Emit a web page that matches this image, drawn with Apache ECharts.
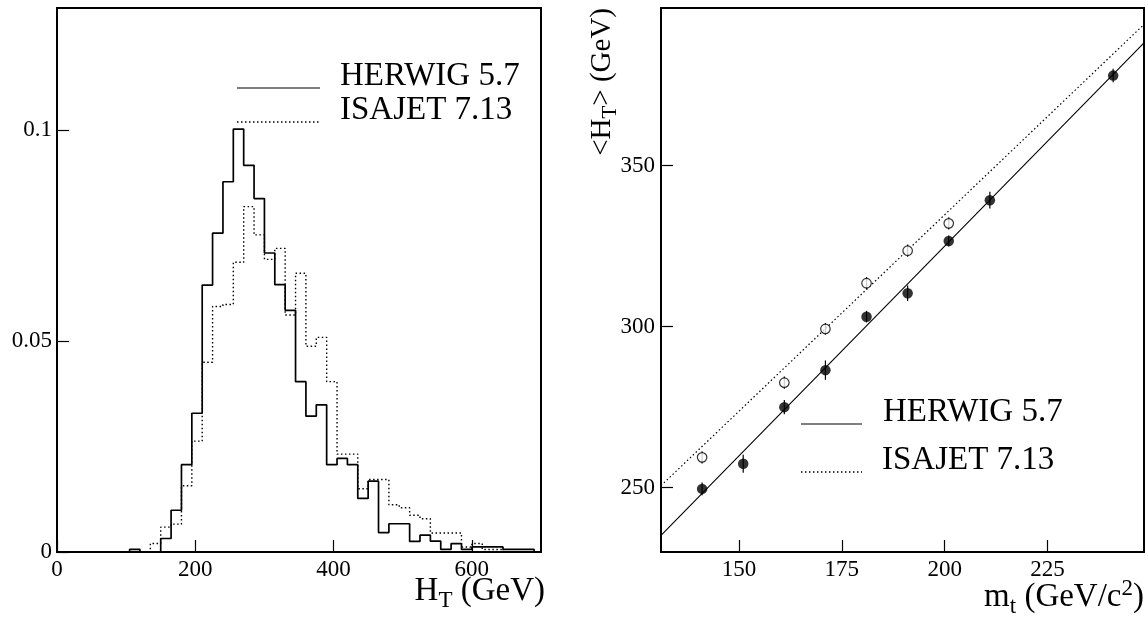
<!DOCTYPE html>
<html>
<head>
<meta charset="utf-8">
<script src="https://cdn.jsdelivr.net/npm/echarts@6/dist/echarts.min.js"></script>
<style>
  html, body { margin: 0; padding: 0; background: #fff; }
  #chart { width: 1148px; height: 618px; }
</style>
</head>
<body>
<div id="chart"></div>
<script>
// H_T distributions, normalised, in 15 GeV bins starting at 0 GeV
const binWidth = 15;
const herwigHT = [
  0, 0, 0, 0, 0, 0, 0, 0.0006, 0, 0,
  0.0032, 0.0099, 0.0207, 0.0329, 0.0633, 0.0756, 0.0878, 0.1003, 0.0917, 0.0838,
  0.0709, 0.0634, 0.0573, 0.0404, 0.0322, 0.0349, 0.0207, 0.0222, 0.0207, 0.0127,
  0.0168, 0.0046, 0.0067, 0.0067, 0.0025, 0.0040, 0.0026, 0.0006, 0.0020, 0.0006,
  0.0012, 0.0012, 0.0012, 0.0006, 0.0006, 0.0006
];
const isajetHT = [
  0, 0, 0, 0, 0, 0, 0, 0, 0, 0.0020,
  0.0059, 0.0066, 0.0157, 0.0263, 0.0450, 0.0582, 0.0587, 0.0687, 0.0819, 0.0752,
  0.0694, 0.0720, 0.0562, 0.0661, 0.0488, 0.0509, 0.0404, 0.0232, 0.0232, 0.0150,
  0.0172, 0.0172, 0.0112, 0.0105, 0.0087, 0.0079, 0.0045, 0.0045, 0.0045, 0.0012,
  0.0020, 0.0006, 0.0006, 0, 0, 0
];

// mean H_T versus top mass
const herwigMass = [141, 151, 161, 171, 181, 191, 201, 211, 241];
const herwigMean = [249.6, 257.4, 275.0, 286.5, 303.1, 310.4, 326.6, 339.3, 378.0];
const herwigErr  = [2.0, 2.8, 2.2, 3.0, 1.8, 2.4, 1.7, 2.6, 2.1];
const isajetMass = [141, 161, 171, 181, 191, 201];
const isajetMean = [259.4, 282.6, 299.3, 313.5, 323.6, 332.1];
const isajetErr  = [1.9, 1.9, 1.8, 1.9, 1.9, 1.9];

// straight-line fits, given by their end points
const herwigFit = [[131, 235.2], [248.5, 388.2]];
const isajetFit = [[131, 250.6], [248.5, 393.9]];

// tick values
const htTicks = [0, 200, 400, 600];
const fracTicks = [0, 0.05, 0.1];
const mtTicks = [150, 175, 200, 225];
const meanTicks = [250, 300, 350];

const legendNames = ['HERWIG 5.7', 'ISAJET 7.13'];

const FAMILY = '"Liberation Serif", "Times New Roman", serif';
const DOTS = [1.5, 2.5];

// outline points for a step histogram
function stepPoints(vals) {
  const pts = vals.map((v, i) => [i * binWidth, v]);
  pts.push([vals.length * binWidth, 0]);
  return pts;
}

// text pieces with sub/superscripts, laid out on a common baseline
const measureCtx = document.createElement('canvas').getContext('2d');
const MID = 0.34; // distance from the 'middle' baseline to the alphabetic one, in em
function runOfText(parts, endX) {
  const widths = parts.map(p => {
    measureCtx.font = p.size + 'px ' + FAMILY;
    return measureCtx.measureText(p.text).width;
  });
  const total = widths.reduce((a, b) => a + b, 0);
  let cur = endX - total;
  return parts.map((p, i) => {
    const el = {
      type: 'text',
      x: cur,
      y: (p.dy || 0) - MID * p.size,
      style: {
        text: p.text,
        font: p.size + 'px ' + FAMILY,
        fill: '#000',
        align: 'left',
        verticalAlign: 'middle'
      }
    };
    cur += widths[i];
    return el;
  });
}
function label(parts, x, baseline, rotation) {
  return {
    type: 'group',
    x: x,
    y: baseline,
    rotation: rotation || 0,
    children: runOfText(parts, 0)
  };
}
function legendEntry(x1, x2, y, textX, text, dashed) {
  return [
    {
      type: 'line',
      shape: { x1: x1, y1: y, x2: x2, y2: y },
      style: { stroke: '#000', lineWidth: dashed ? 1.3 : 1.2, lineDash: dashed ? DOTS : null }
    },
    {
      type: 'text',
      x: textX,
      y: y - MID * 33,
      style: { text: text, font: '33px ' + FAMILY, fill: '#000', align: 'left', verticalAlign: 'middle' }
    }
  ];
}

const axisText = { color: '#000', fontFamily: FAMILY, fontSize: 23 };
const frameLine = { show: true, onZero: false, lineStyle: { color: '#000', width: 2 } };
const tickStyle = { inside: true, length: 12, lineStyle: { color: '#000', width: 1.2 } };

const chart = echarts.init(document.getElementById('chart'), null, { renderer: 'canvas' });

chart.setOption({
  animation: false,
  backgroundColor: '#fff',
  grid: [
    { left: 57, right: 607, top: 8, bottom: 66, show: true, borderColor: '#000', borderWidth: 2, backgroundColor: 'transparent' },
    { left: 661, right: 4, top: 8, bottom: 66, show: true, borderColor: '#000', borderWidth: 2, backgroundColor: 'transparent' }
  ],
  xAxis: [
    {
      gridIndex: 0, type: 'value', min: 0, max: 700,
      axisLine: frameLine,
      axisTick: Object.assign({ customValues: htTicks }, tickStyle),
      axisLabel: Object.assign({ customValues: htTicks, margin: 6 }, axisText),
      splitLine: { show: false }
    },
    {
      gridIndex: 1, type: 'value', min: 131, max: 248.5,
      axisLine: frameLine,
      axisTick: Object.assign({ customValues: mtTicks }, tickStyle),
      axisLabel: Object.assign({ customValues: mtTicks, margin: 6 }, axisText),
      splitLine: { show: false }
    }
  ],
  yAxis: [
    {
      gridIndex: 0, type: 'value', min: 0, max: 0.129,
      axisLine: frameLine,
      axisTick: Object.assign({ customValues: fracTicks }, tickStyle),
      axisLabel: Object.assign({ customValues: fracTicks, margin: 5 }, axisText),
      splitLine: { show: false }
    },
    {
      gridIndex: 1, type: 'value', min: 230, max: 399,
      axisLine: frameLine,
      axisTick: Object.assign({ customValues: meanTicks }, tickStyle),
      axisLabel: Object.assign({ customValues: meanTicks, margin: 6 }, axisText),
      splitLine: { show: false }
    }
  ],
  series: [
    {
      name: legendNames[1], type: 'line', xAxisIndex: 0, yAxisIndex: 0,
      data: stepPoints(isajetHT), step: 'end', symbol: 'none', silent: true,
      lineStyle: { color: '#000', width: 1.4, type: DOTS }, z: 3
    },
    {
      name: legendNames[0], type: 'line', xAxisIndex: 0, yAxisIndex: 0,
      data: stepPoints(herwigHT), step: 'end', symbol: 'none', silent: true,
      lineStyle: { color: '#000', width: 1.7 }, z: 4
    },
    {
      name: legendNames[0] + ' fit', type: 'line', xAxisIndex: 1, yAxisIndex: 1,
      data: herwigFit, symbol: 'none', silent: true, clip: true,
      lineStyle: { color: '#000', width: 1.1 }, z: 2
    },
    {
      name: legendNames[1] + ' fit', type: 'line', xAxisIndex: 1, yAxisIndex: 1,
      data: isajetFit, symbol: 'none', silent: true, clip: true,
      lineStyle: { color: '#000', width: 1.2, type: DOTS }, z: 2
    },
    {
      name: 'errors', type: 'custom', xAxisIndex: 1, yAxisIndex: 1, silent: true, z: 3,
      data: herwigMass.map((m, i) => [m, herwigMean[i], herwigErr[i]])
        .concat(isajetMass.map((m, i) => [m, isajetMean[i], isajetErr[i]])),
      renderItem: function (params, api) {
        const lo = api.coord([api.value(0), api.value(1) - api.value(2)]);
        const hi = api.coord([api.value(0), api.value(1) + api.value(2)]);
        return {
          type: 'line',
          shape: { x1: lo[0], y1: lo[1], x2: hi[0], y2: hi[1] },
          style: { stroke: '#000', lineWidth: 1.2 }
        };
      }
    },
    {
      name: legendNames[0] + ' mean', type: 'scatter', xAxisIndex: 1, yAxisIndex: 1,
      data: herwigMass.map((m, i) => [m, herwigMean[i]]),
      symbol: 'circle', symbolSize: 10.5, silent: true,
      itemStyle: { color: '#000' }, z: 5
    },
    {
      name: legendNames[1] + ' mean', type: 'scatter', xAxisIndex: 1, yAxisIndex: 1,
      data: isajetMass.map((m, i) => [m, isajetMean[i]]),
      symbol: 'circle', symbolSize: 9.5, silent: true,
      itemStyle: { color: '#fff', borderColor: '#000', borderWidth: 1.2 }, z: 5
    }
  ],
  graphic: [].concat(
    legendEntry(237, 320, 88, 340, legendNames[0], false),
    legendEntry(237, 320, 122, 340, legendNames[1], true),
    legendEntry(801, 862, 424, 883, legendNames[0], false),
    legendEntry(801, 862, 472, 882, legendNames[1], true),
    [
      label([
        { text: 'H', size: 33 },
        { text: 'T', size: 23, dy: 6 },
        { text: ' (GeV)', size: 33 }
      ], 545, 603),
      label([
        { text: 'm', size: 33 },
        { text: 't', size: 23, dy: 6 },
        { text: ' (GeV/c', size: 33 },
        { text: '2', size: 23, dy: -12 },
        { text: ')', size: 33 }
      ], 1144, 609),
      label([
        { text: '<H', size: 29 },
        { text: 'T', size: 21, dy: 6 },
        { text: '> (GeV)', size: 29 }
      ], 612, 8, Math.PI / 2)
    ]
  )
});
</script>
</body>
</html>
